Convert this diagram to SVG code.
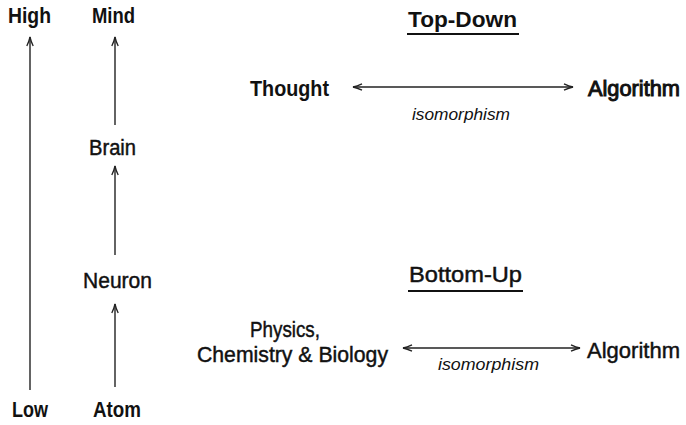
<svg xmlns="http://www.w3.org/2000/svg" width="686" height="425" viewBox="0 0 686 425">
<defs>
<style>
.t{font-family:"Liberation Sans",Arial,sans-serif;font-size:22px;fill:#111}
.r{stroke:#111;stroke-width:0.45}
.rb{stroke:#111;stroke-width:1}
.b{font-weight:bold}
.i{font-family:"Liberation Sans",Arial,sans-serif;font-size:17px;font-style:italic;fill:#111}
.ln{stroke:#222;stroke-width:1.4;fill:none}
.ul{stroke:#111;stroke-width:2.2}
</style>
<marker id="ah" viewBox="-10 -5 12 10" markerWidth="12" markerHeight="10" refX="0" refY="0" orient="auto-start-reverse" markerUnits="userSpaceOnUse">
<path d="M-9,-3.2 Q-4,-0.8 0,0 Q-4,0.8 -9,3.2" stroke="#222" stroke-width="1.3" fill="none"/>
</marker>
</defs>
<rect width="686" height="425" fill="#fff"/>
<g id="connectors">
<line class="ln" x1="30" y1="390" x2="30" y2="37" marker-end="url(#ah)"/>
<line class="ln" x1="115" y1="125" x2="115" y2="37" marker-end="url(#ah)"/>
<line class="ln" x1="115" y1="255" x2="115" y2="166" marker-end="url(#ah)"/>
<line class="ln" x1="115" y1="387" x2="115" y2="304" marker-end="url(#ah)"/>
<line class="ln" x1="353" y1="87" x2="573" y2="87" marker-start="url(#ah)" marker-end="url(#ah)"/>
<line class="ln" x1="403" y1="348" x2="580" y2="348" marker-start="url(#ah)" marker-end="url(#ah)"/>
</g>
<g id="high"><text class="t b" x="8" y="23" textLength="43" lengthAdjust="spacingAndGlyphs">High</text></g>
<g id="low"><text class="t b" x="12" y="417" textLength="36" lengthAdjust="spacingAndGlyphs">Low</text></g>
<g id="mind"><text class="t b" x="92" y="23" textLength="43" lengthAdjust="spacingAndGlyphs">Mind</text></g>
<g id="brain"><text class="t r" x="89" y="155" textLength="47" lengthAdjust="spacingAndGlyphs">Brain</text></g>
<g id="neuron"><text class="t r" x="83" y="288" textLength="69" lengthAdjust="spacingAndGlyphs">Neuron</text></g>
<g id="atom"><text class="t b" x="93" y="417" textLength="48" lengthAdjust="spacingAndGlyphs">Atom</text></g>
<g id="topdown">
<text class="t b" x="408" y="27" textLength="109" lengthAdjust="spacingAndGlyphs">Top-Down</text>
<line class="ul" x1="407" y1="34" x2="519" y2="34"/>
</g>
<g id="thought"><text class="t b" x="250" y="96" textLength="79" lengthAdjust="spacingAndGlyphs">Thought</text></g>
<g id="algorithm-top"><text class="t rb" x="588" y="96" textLength="92" lengthAdjust="spacingAndGlyphs">Algorithm</text></g>
<g id="iso-top"><text class="i" x="412" y="120" textLength="98" lengthAdjust="spacingAndGlyphs">isomorphism</text></g>
<g id="bottomup">
<text class="t r" x="409" y="282" textLength="113" lengthAdjust="spacingAndGlyphs">Bottom-Up</text>
<line class="ul" x1="408" y1="291" x2="523" y2="291"/>
</g>
<g id="physics">
<text class="t r" x="250" y="337" textLength="70" lengthAdjust="spacingAndGlyphs">Physics,</text>
<text class="t r" x="197" y="362" textLength="191" lengthAdjust="spacingAndGlyphs">Chemistry &amp; Biology</text>
</g>
<g id="algorithm-bottom"><text class="t r" x="587" y="358" textLength="93" lengthAdjust="spacingAndGlyphs">Algorithm</text></g>
<g id="iso-bottom"><text class="i" x="438" y="370" textLength="101" lengthAdjust="spacingAndGlyphs">isomorphism</text></g>
</svg>
